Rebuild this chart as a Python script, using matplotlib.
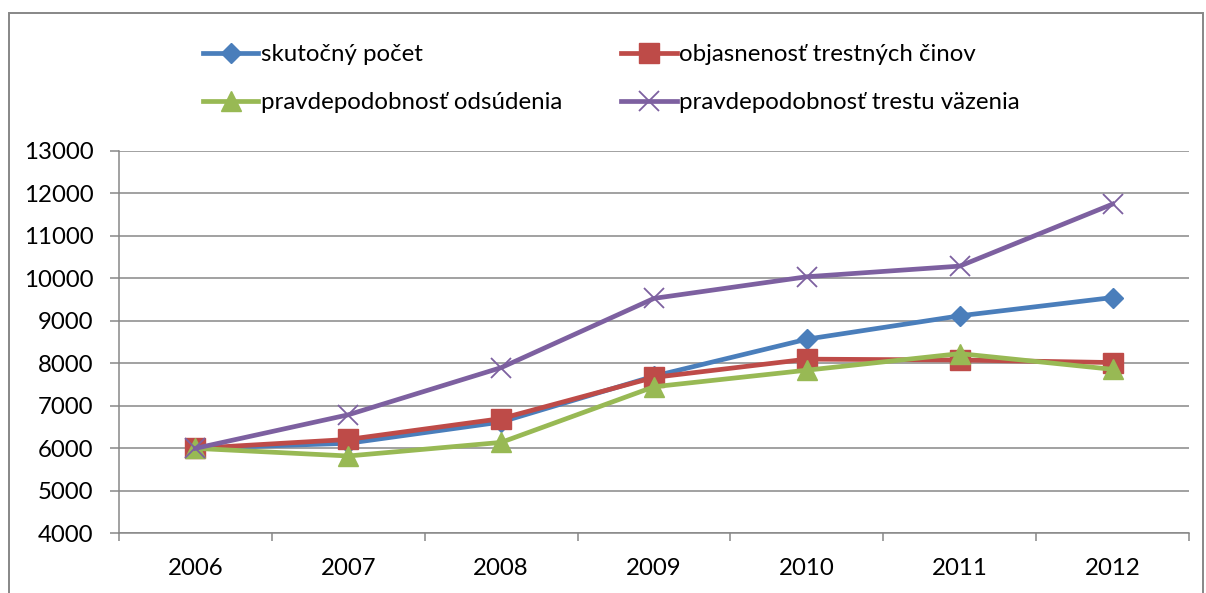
import matplotlib
matplotlib.use("Agg")
import matplotlib.pyplot as plt
from matplotlib.patches import Rectangle

plt.rcParams["font.family"] = ["Lato", "DejaVu Sans"]

# ---------------------------------------------------------------------------
# data
# ---------------------------------------------------------------------------
years = ["2006", "2007", "2008", "2009", "2010", "2011", "2012"]

skutocny_pocet = [6000, 6120, 6620, 7700, 8570, 9120, 9550]
objasnenost = [6000, 6210, 6700, 7670, 8100, 8080, 8020]
odsudenie = [6000, 5820, 6140, 7450, 7840, 8230, 7860]
vazenie = [6000, 6790, 7900, 9530, 10040, 10290, 11750]

labels = ["skutočný počet", "objasnenosť trestných činov",
          "pravdepodobnosť odsúdenia", "pravdepodobnosť trestu väzenia"]

y_ticks = list(range(4000, 13001, 1000))

GRID = "#878787"
FS = 17.3

fig = plt.figure(figsize=(12.06, 5.93), dpi=100)
ax = fig.add_axes([119 / 1206, 1 - 533.3 / 593,
                   (1189 - 119) / 1206, (533.3 - 151) / 593])

x = list(range(len(years)))

# series, in Excel's draw order (purple ends up on top)
l1, = ax.plot(x, skutocny_pocet, color="#4A7EBB", lw=3.4,
              marker="D", ms=10, mec="#4A7EBB", zorder=3)
l2, = ax.plot(x, objasnenost, color="#BE4B48", lw=3.4,
              marker="s", ms=14, mec="#BE4B48", zorder=4)
l3, = ax.plot(x, odsudenie, color="#98B954", lw=3.4,
              marker="^", ms=14, mec="#98B954", zorder=5)
l4, = ax.plot(x, vazenie, color="#7D60A0", lw=3.4,
              marker="x", ms=14, mew=1.3, mec="#7D60A0", zorder=6)

ax.set_xlim(-0.5, len(years) - 0.5)
ax.set_ylim(4000, 13000)
ax.set_yticks(y_ticks)
ax.set_yticklabels([str(v) for v in y_ticks])
ax.set_xticks(x)
ax.set_xticklabels(years)
ax.set_xticks([i - 0.5 for i in range(len(years) + 1)], minor=True)

ax.yaxis.grid(True, color=GRID, lw=1.1)
ax.set_axisbelow(True)
for side in ("top", "right"):
    ax.spines[side].set_visible(False)
for side in ("left", "bottom"):
    ax.spines[side].set_color(GRID)
    ax.spines[side].set_linewidth(1.1)

ax.tick_params(axis="y", length=6.5, width=1.1, color=GRID, pad=12,
               labelsize=FS, labelcolor="black")
ax.tick_params(axis="x", which="major", length=0, pad=18,
               labelsize=FS, labelcolor="black")
ax.tick_params(axis="x", which="minor", length=6, width=1.1, color=GRID)

# legend fills column by column, so interleave to get Excel's row order
fig.legend([l1, l3, l2, l4], [labels[0], labels[2], labels[1], labels[3]],
           ncol=2, frameon=False,
           loc="upper left", bbox_to_anchor=(203 / 1206, 1 - 44 / 593),
           fontsize=FS, handlelength=2.3, handletextpad=0.12,
           columnspacing=2.45, labelspacing=1.12, borderaxespad=0,
           borderpad=0)

# outer chart-area border (bottom edge runs off the image)
fig.patches.append(Rectangle((9 / 1206, -0.05), (1203 - 9) / 1206,
                             (593 - 13) / 593 + 0.05,
                             transform=fig.transFigure, fill=False,
                             edgecolor=GRID, lw=1.4, clip_on=False))

fig.savefig("out.png", dpi=100, facecolor="white")
